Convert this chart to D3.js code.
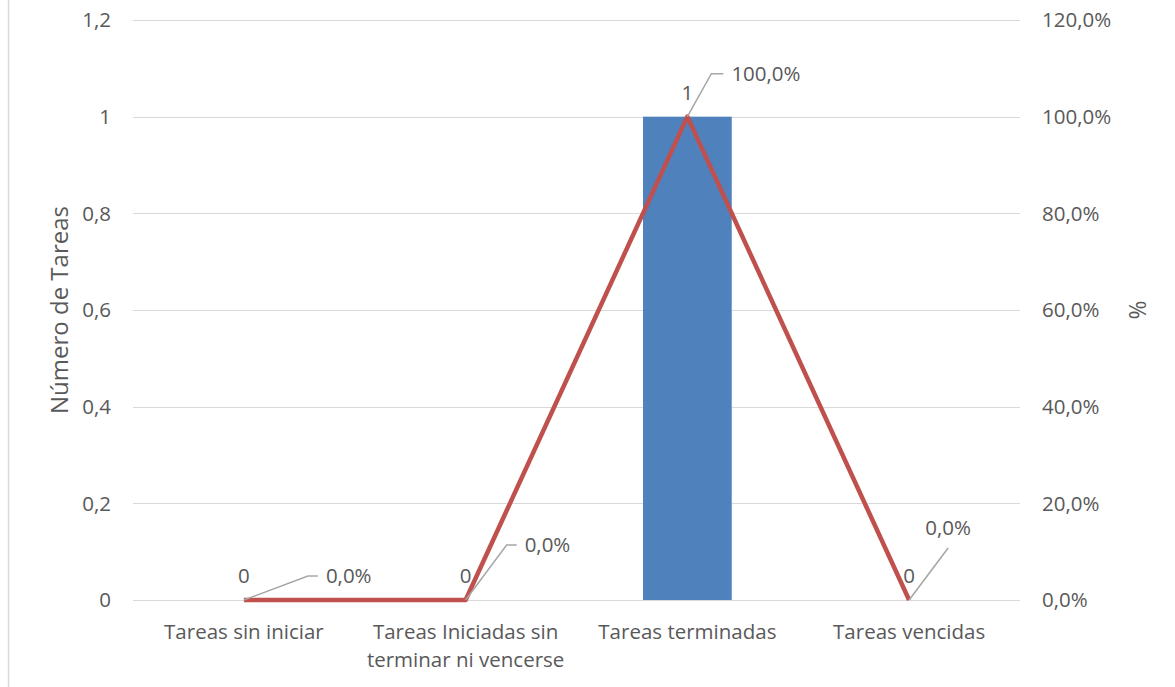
<!DOCTYPE html>
<html>
<head>
<meta charset="utf-8">
<script src="https://cdn.jsdelivr.net/npm/d3@7"></script>
<style>
  body { margin: 0; background: #fff; }
  svg text { font-family: "Open Sans", "Noto Sans", sans-serif; fill: #595959; }
</style>
</head>
<body>
<svg id="chart" width="1175" height="687"></svg>
<script>
const categories = ["Tareas sin iniciar", "Tareas Iniciadas sin terminar ni vencerse", "Tareas terminadas", "Tareas vencidas"];
const categoryLines = [["Tareas sin iniciar"], ["Tareas Iniciadas sin", "terminar ni vencerse"], ["Tareas terminadas"], ["Tareas vencidas"]];
const counts = [0, 0, 1, 0];
const percents = [0, 0, 1, 0];
const leftTicks = [0, 0.2, 0.4, 0.6, 0.8, 1, 1.2];
const rightTicks = [0, 0.2, 0.4, 0.6, 0.8, 1, 1.2];

// leader line layout for the percent labels: [dx, dy, horizontal tail]
const leaders = [[64, -24, 10], [41, -55, 10], [24, -43, 12], [39, -52, 0]];

const svg = d3.select("#chart");
const plotLeft = 133, plotRight = 1020, plotTop = 20, plotBottom = 600;
const fontSize = "20.5px";

const x = d3.scaleBand().domain(categories).range([plotLeft, plotRight]);
const y = d3.scaleLinear().domain([0, 1.2]).range([plotBottom, plotTop]);
const y2 = d3.scaleLinear().domain([0, 1.2]).range([plotBottom, plotTop]);
const fmt = d3.formatLocale({decimal: ",", thousands: ".", grouping: [3], currency: ["", "€"]});
const numFmt = d => fmt.format("~g")(d);
const pctFmt = fmt.format(".1%");

// outer border on the left
svg.append("line")
    .attr("x1", 8.5).attr("x2", 8.5)
    .attr("y1", 0).attr("y2", 687)
    .attr("stroke", "#d9d9d9").attr("stroke-width", 1.5);

// gridlines
svg.append("g").selectAll("line")
    .data(leftTicks)
    .enter().append("line")
        .attr("x1", plotLeft).attr("x2", plotRight)
        .attr("y1", d => Math.round(y(d)) + 0.5)
        .attr("y2", d => Math.round(y(d)) + 0.5)
        .attr("stroke", "#d9d9d9").attr("stroke-width", 1);

// left axis labels
svg.append("g").selectAll("text")
    .data(leftTicks)
    .enter().append("text")
        .attr("x", 111)
        .attr("y", d => y(d))
        .attr("dy", "0.35em")
        .attr("text-anchor", "end")
        .style("font-size", fontSize)
        .text(numFmt);

// right axis labels
svg.append("g").selectAll("text")
    .data(rightTicks)
    .enter().append("text")
        .attr("x", 1042)
        .attr("y", d => y2(d))
        .attr("dy", "0.35em")
        .attr("text-anchor", "start")
        .style("font-size", fontSize)
        .text(pctFmt);

// axis titles
svg.append("text")
    .attr("transform", `translate(68, ${(plotTop + plotBottom) / 2}) rotate(-90)`)
    .attr("text-anchor", "middle")
    .style("font-size", "24px")
    .text("Número de Tareas");

svg.append("text")
    .attr("transform", `translate(1146, ${(plotTop + plotBottom) / 2}) rotate(-90)`)
    .attr("text-anchor", "middle")
    .style("font-size", "23px")
    .text("%");

// category labels
const cats = svg.append("g").selectAll("text")
    .data(categories)
    .enter().append("text")
        .attr("x", d => x(d) + x.bandwidth() / 2)
        .attr("y", 639)
        .attr("text-anchor", "middle")
        .style("font-size", fontSize);
cats.selectAll("tspan")
    .data((d, i) => categoryLines[i])
    .enter().append("tspan")
        .attr("x", function() { return this.parentNode.getAttribute("x"); })
        .attr("dy", (d, i) => i === 0 ? 0 : 28)
        .text(d => d);

// bars
const barW = x.bandwidth() * 0.4;
svg.append("g").selectAll("rect")
    .data(counts)
    .enter().append("rect")
        .attr("x", (d, i) => x(categories[i]) + (x.bandwidth() - barW) / 2)
        .attr("y", d => y(d))
        .attr("width", barW)
        .attr("height", d => plotBottom - y(d))
        .attr("fill", "#4f81bd");

// line
const cx = i => x(categories[i]) + x.bandwidth() / 2;
const line = d3.line()
    .x((d, i) => cx(i))
    .y(d => y2(d));

svg.append("path")
    .datum(percents)
    .attr("fill", "none")
    .attr("stroke", "#c0504d")
    .attr("stroke-width", 4.5)
    .attr("stroke-linejoin", "round")
    .attr("d", line);

// leader lines + percent labels
percents.forEach((d, i) => {
    const [dx, dy, tail] = leaders[i];
    const x0 = cx(i), y0 = y2(d);
    svg.append("path")
        .attr("d", `M${x0},${y0}L${x0 + dx},${y0 + dy}h${tail}`)
        .attr("fill", "none")
        .attr("stroke", "#a6a6a6")
        .attr("stroke-width", 1.5);
    const t = svg.append("text")
        .style("font-size", fontSize)
        .text(pctFmt(d));
    if (tail > 0) {
        t.attr("x", x0 + dx + tail + 8).attr("y", y0 + dy).attr("dy", "0.35em");
    } else {
        t.attr("x", x0 + dx).attr("y", y0 + dy - 20).attr("dy", "0.35em").attr("text-anchor", "middle");
    }
});

// count labels
svg.append("g").selectAll("text")
    .data(counts)
    .enter().append("text")
        .attr("x", (d, i) => cx(i))
        .attr("y", d => y(d) - 24)
        .attr("dy", "0.35em")
        .attr("text-anchor", "middle")
        .style("font-size", fontSize)
        .text(numFmt);
</script>
</body>
</html>
